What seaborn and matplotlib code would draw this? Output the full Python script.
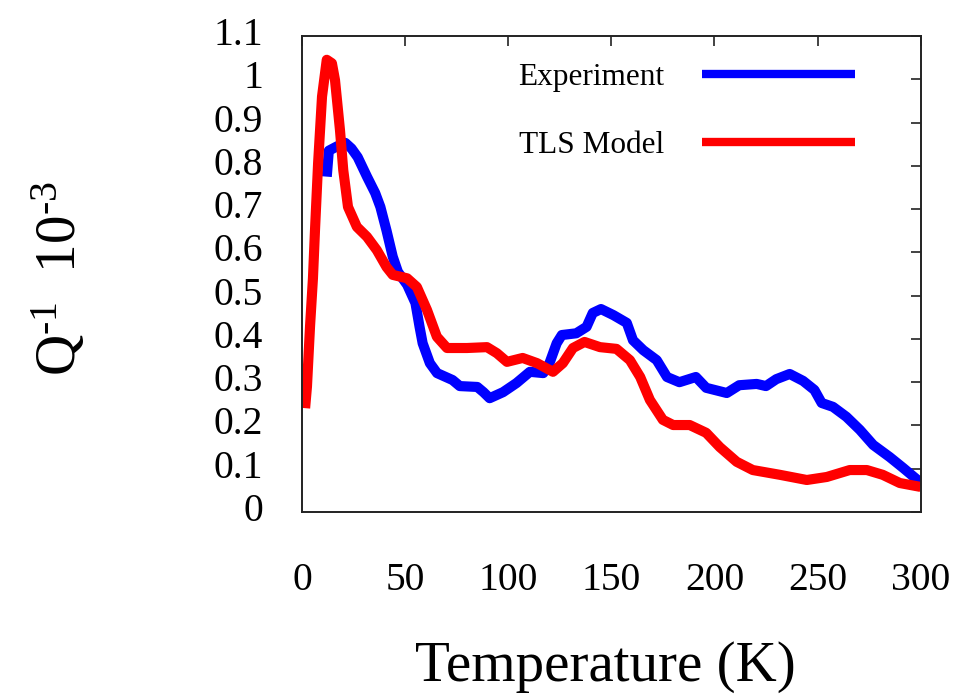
import matplotlib
matplotlib.use("Agg")
import matplotlib.pyplot as plt
import matplotlib.transforms as mtransforms
import numpy as np
import pandas as pd
import seaborn as sns

# Internal friction vs temperature: measured curve and two-level-system model
exp_temp = [12, 13, 17, 21, 24, 27, 31.5, 35.5, 38, 41, 44, 46.5, 51, 55, 57,
            58.5, 62, 65.5, 73, 76.5, 85, 88, 91, 97.5, 104, 110.5, 117, 120,
            123.5, 126, 133, 138, 141, 145, 151, 157.5, 160.5, 165.5, 172, 177,
            183, 191, 196, 206, 212, 220.5, 225, 230, 236.5, 243, 248.5, 252,
            257.5, 264, 270.5, 277, 285, 291.5, 298, 300]
exp_q = [0.775, 0.835, 0.845, 0.853, 0.84, 0.82, 0.775, 0.737, 0.705, 0.65,
         0.59, 0.555, 0.525, 0.483, 0.428, 0.39, 0.344, 0.321, 0.305, 0.291,
         0.289, 0.277, 0.263, 0.277, 0.298, 0.324, 0.321, 0.344, 0.39, 0.409,
         0.413, 0.428, 0.46, 0.469, 0.455, 0.437, 0.397, 0.374, 0.351, 0.312,
         0.3, 0.312, 0.287, 0.275, 0.293, 0.296, 0.291, 0.307, 0.319, 0.303,
         0.282, 0.252, 0.243, 0.22, 0.19, 0.155, 0.127, 0.102, 0.076, 0.068]

tls_temp = [1.5, 2.4, 3.9, 5.3, 6.3, 7.8, 9.7, 12, 14.5, 16, 18.4, 20, 22.3,
            26.6, 31.5, 36.3, 41, 44, 51, 55.7, 60.6, 65.4, 70.3, 80, 89.7,
            94.5, 99.4, 107, 114, 121.7, 126.5, 131.4, 137, 144.5, 152.5, 159,
            164, 168.7, 175, 180, 188, 196, 202.6, 210.8, 218.6, 231.7, 244.8,
            254.5, 265.6, 273.9, 281.6, 289.9, 300]
tls_q = [0.24, 0.29, 0.43, 0.54, 0.652, 0.806, 0.96, 1.045, 1.037, 0.998,
         0.883, 0.79, 0.705, 0.659, 0.636, 0.605, 0.566, 0.548, 0.54, 0.52,
         0.467, 0.405, 0.379, 0.379, 0.381, 0.367, 0.347, 0.356, 0.344, 0.324,
         0.344, 0.379, 0.393, 0.381, 0.377, 0.351, 0.312, 0.259, 0.213, 0.201,
         0.201, 0.183, 0.15, 0.116, 0.097, 0.086, 0.074, 0.081, 0.097, 0.097,
         0.086, 0.067, 0.058]

series_names = ["Experiment", "TLS Model"]
series_colors = ["#0000ff", "#ff0000"]
x_ticks = [0, 50, 100, 150, 200, 250, 300]
y_ticks = [0, 0.1, 0.2, 0.3, 0.4, 0.5, 0.6, 0.7, 0.8, 0.9, 1.0, 1.1]
y_tick_labels = ["0", "0.1", "0.2", "0.3", "0.4", "0.5", "0.6", "0.7",
                 "0.8", "0.9", "1", "1.1"]

df = pd.concat([
    pd.DataFrame({"T": exp_temp, "Q": exp_q, "series": series_names[0]}),
    pd.DataFrame({"T": tls_temp, "Q": tls_q, "series": series_names[1]}),
], ignore_index=True)

sns.set_theme(style="white")
plt.rcParams["font.family"] = ["Liberation Serif", "DejaVu Serif"]
plt.rcParams["mathtext.fontset"] = "custom"
plt.rcParams["mathtext.rm"] = "Liberation Serif"
plt.rcParams["mathtext.it"] = "Liberation Serif:italic"
plt.rcParams["text.color"] = "black"
plt.rcParams["axes.labelcolor"] = "black"
plt.rcParams["xtick.color"] = "#222222"
plt.rcParams["ytick.color"] = "#222222"

fig = plt.figure(figsize=(9.6, 6.99), dpi=100)
ax = fig.add_axes([0.3146, 0.2675, 0.6444, 0.681])

sns.lineplot(data=df, x="T", y="Q", hue="series", hue_order=series_names,
             palette=dict(zip(series_names, series_colors)), sort=False,
             estimator=None, linewidth=7.3, ax=ax)
for line in ax.lines:
    line.set_solid_capstyle("butt")
    line.set_solid_joinstyle("round")

ax.set_xlim(0, 300)
ax.set_ylim(0, 1.1)
ax.set_xticks(x_ticks)
ax.set_xticklabels([str(t) for t in x_ticks])
ax.set_yticks(y_ticks)
ax.set_yticklabels(y_tick_labels)
ax.tick_params(direction="in", length=7, width=1.2, top=True, right=True,
               labelsize=28.5, labelcolor="black")
ax.tick_params(axis="x", pad=36)
ax.tick_params(axis="y", pad=28)
for lbl in ax.get_yticklabels():
    lbl.set_transform(lbl.get_transform() +
                      mtransforms.ScaledTranslation(0, 0.05, fig.dpi_scale_trans))

for sp in ax.spines.values():
    sp.set_visible(True)
    sp.set_color("#222222")
    sp.set_linewidth(1.4)

ax.set_xlabel("Temperature (K)", fontsize=41, va="center")
ax.xaxis.set_label_coords(0.49, -0.325)
ax.set_ylabel(r"$\mathregular{Q^{‐1}\ \ 10^{‐3}}$", fontsize=41, va="center")
ax.yaxis.set_label_coords(-0.392, 0.49)

leg = ax.legend(loc="upper right", bbox_to_anchor=(0.8934, 0.944),
                frameon=False, markerfirst=False, fontsize=22.5,
                handlelength=4.9, handletextpad=1.2, labelspacing=1.27,
                borderpad=0, borderaxespad=0)
for h in leg.get_lines():
    h.set_linewidth(6)
    h.set_solid_capstyle("butt")

fig.savefig("out.png", dpi=100)
